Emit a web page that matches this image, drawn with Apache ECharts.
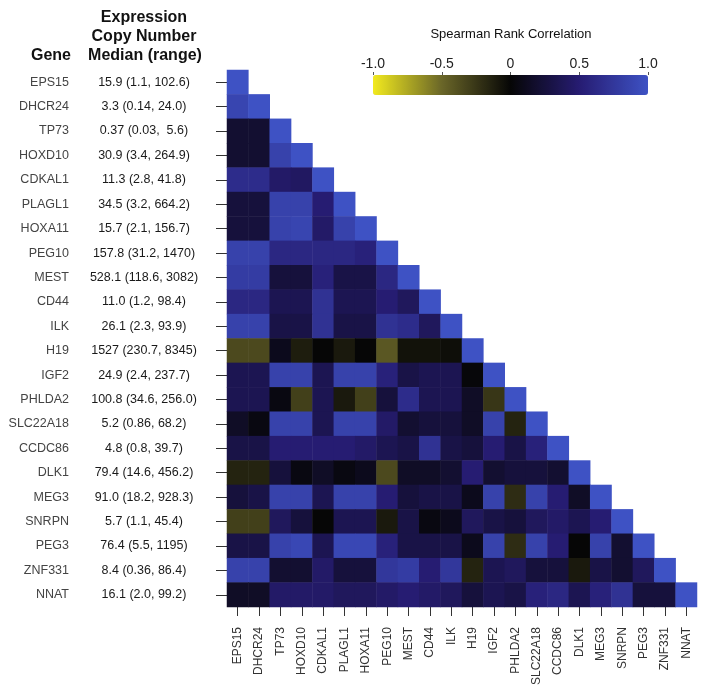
<!DOCTYPE html>
<html>
<head>
<meta charset="utf-8">
<script src="https://cdn.jsdelivr.net/npm/echarts@6/dist/echarts.min.js"></script>
<style>
  html, body { margin: 0; padding: 0; background: #fff; }
  #main { width: 714px; height: 697px; }
</style>
</head>
<body>
<div id="main"></div>
<script>
// genes, top to bottom / left to right
var genes = ['EPS15', 'DHCR24', 'TP73', 'HOXD10', 'CDKAL1', 'PLAGL1', 'HOXA11', 'PEG10',
  'MEST', 'CD44', 'ILK', 'H19', 'IGF2', 'PHLDA2', 'SLC22A18', 'CCDC86', 'DLK1', 'MEG3',
  'SNRPN', 'PEG3', 'ZNF331', 'NNAT'];

// expression copy number: median (range)
var expression = ['15.9 (1.1, 102.6)', '3.3 (0.14, 24.0)', '0.37 (0.03,  5.6)', '30.9 (3.4, 264.9)',
  '11.3 (2.8, 41.8)', '34.5 (3.2, 664.2)', '15.7 (2.1, 156.7)', '157.8 (31.2, 1470)',
  '528.1 (118.6, 3082)', '11.0 (1.2, 98.4)', '26.1 (2.3, 93.9)', '1527 (230.7, 8345)',
  '24.9 (2.4, 237.7)', '100.8 (34.6, 256.0)', '5.2 (0.86, 68.2)', '4.8 (0.8, 39.7)',
  '79.4 (14.6, 456.2)', '91.0 (18.2, 928.3)', '5.7 (1.1, 45.4)', '76.4 (5.5, 1195)',
  '8.4 (0.36, 86.4)', '16.1 (2.0, 99.2)'];

// lower triangle of the Spearman correlation matrix, row by row (diagonal included)
var corrRows = [
  [1],
  [0.88, 1],
  [0.2, 0.2, 1],
  [0.2, 0.2, 0.85, 1],
  [0.65, 0.65, 0.45, 0.42, 1],
  [0.25, 0.25, 0.85, 0.85, 0.5, 1],
  [0.25, 0.25, 0.85, 0.88, 0.45, 0.85, 1],
  [0.85, 0.85, 0.6, 0.6, 0.6, 0.6, 0.55, 1],
  [0.8, 0.8, 0.25, 0.25, 0.55, 0.3, 0.3, 0.6, 1],
  [0.6, 0.6, 0.35, 0.35, 0.7, 0.35, 0.35, 0.5, 0.4, 1],
  [0.85, 0.85, 0.3, 0.3, 0.7, 0.3, 0.3, 0.7, 0.65, 0.4, 1],
  [-0.35, -0.35, 0.1, -0.12, 0, -0.1, 0, -0.42, -0.06, -0.06, -0.04, 1],
  [0.35, 0.35, 0.85, 0.85, 0.35, 0.85, 0.85, 0.55, 0.3, 0.35, 0.35, 0.02, 1],
  [0.35, 0.35, 0.05, -0.3, 0.35, -0.1, -0.3, 0.25, 0.65, 0.35, 0.35, 0.15, -0.25, 1],
  [0.15, 0.05, 0.85, 0.85, 0.35, 0.85, 0.85, 0.45, 0.2, 0.25, 0.25, 0.15, 0.85, -0.15, 1],
  [0.3, 0.3, 0.5, 0.5, 0.5, 0.5, 0.45, 0.35, 0.3, 0.7, 0.3, 0.25, 0.5, 0.3, 0.55, 1],
  [-0.15, -0.15, 0.25, 0.05, 0.15, 0.05, 0.1, -0.35, 0.15, 0.15, 0.2, 0.5, 0.2, 0.25, 0.25, 0.2, 1],
  [0.25, 0.3, 0.85, 0.85, 0.35, 0.85, 0.85, 0.5, 0.25, 0.3, 0.3, 0.1, 0.85, -0.2, 0.85, 0.5, 0.15, 1],
  [-0.3, -0.3, 0.4, 0.25, 0, 0.35, 0.35, -0.1, 0.3, 0.05, 0.1, 0.4, 0.3, 0.25, 0.4, 0.45, 0.35, 0.5, 1],
  [0.3, 0.3, 0.85, 0.9, 0.35, 0.9, 0.9, 0.55, 0.3, 0.3, 0.3, 0.1, 0.85, -0.2, 0.85, 0.5, 0, 0.85, 0.2, 1],
  [0.85, 0.85, 0.2, 0.2, 0.45, 0.25, 0.25, 0.75, 0.8, 0.5, 0.75, -0.15, 0.35, 0.4, 0.25, 0.25, -0.1, 0.3, 0.2, 0.4, 1],
  [0.15, 0.15, 0.45, 0.45, 0.45, 0.4, 0.4, 0.45, 0.5, 0.45, 0.4, 0.25, 0.35, 0.3, 0.55, 0.6, 0.35, 0.55, 0.7, 0.25, 0.25, 1]
];

var scaleColors = ['#f2ea1e', '#6a6628', '#060606', '#261c72', '#3e52c4'];

var font = 'Liberation Sans, Arial, sans-serif';

// heatmap data [x, y, value]
var cells = [];
corrRows.forEach(function (row, r) {
  row.forEach(function (v, c) {
    cells.push([c, r, v]);
  });
});

var chart = echarts.init(document.getElementById('main'));

chart.setOption({
  animation: false,
  textStyle: { fontFamily: font },
  grid: [
    { left: 227, top: 70, width: 470, height: 537 },
    // holds the colour scale axis
    { left: 373, top: 75, width: 275, height: 20 }
  ],
  xAxis: [
    {
      type: 'category',
      gridIndex: 0,
      data: genes,
      position: 'bottom',
      axisLine: { show: false },
      axisTick: { show: true, alignWithLabel: true, length: 9, lineStyle: { color: '#333' } },
      axisLabel: { rotate: 90, margin: 20, fontSize: 12, color: '#333', fontFamily: font },
      splitLine: { show: false }
    },
    {
      type: 'value',
      gridIndex: 1,
      position: 'top',
      min: -1,
      max: 1,
      interval: 0.5,
      axisLine: { show: false },
      axisTick: { show: true, length: 3, lineStyle: { color: '#555' } },
      axisLabel: {
        margin: 4, fontSize: 14, color: '#222', fontFamily: font,
        formatter: function (v) { return v === 0 ? '0' : v.toFixed(1); }
      },
      splitLine: { show: false }
    }
  ],
  yAxis: [
    {
      type: 'category',
      gridIndex: 0,
      data: genes,
      inverse: true,
      axisLine: { show: false },
      axisTick: { show: true, alignWithLabel: true, length: 11, lineStyle: { color: '#333' } },
      axisLabel: { margin: 158, fontSize: 12.5, color: '#444', fontFamily: font },
      splitLine: { show: false }
    },
    {
      type: 'category',
      gridIndex: 0,
      data: expression,
      inverse: true,
      position: 'left',
      axisLine: { show: false },
      axisTick: { show: false },
      axisLabel: { margin: 83, align: 'center', fontSize: 12.5, color: '#1a1a1a', fontFamily: font },
      splitLine: { show: false }
    },
    {
      type: 'category',
      gridIndex: 1,
      data: [''],
      show: false
    }
  ],
  visualMap: {
    type: 'continuous',
    seriesIndex: 0,
    min: -1,
    max: 1,
    orient: 'horizontal',
    left: 373,
    top: 75,
    padding: 0,
    itemWidth: 20,
    itemHeight: 275,
    calculable: false,
    text: null,
    hoverLink: false,
    inRange: { color: scaleColors }
  },
  graphic: [
    { type: 'text', left: 31, top: 48, style: { text: 'Gene', font: 'bold 16px ' + font, fill: '#111' } },
    { type: 'text', x: 144, y: 18, style: { text: 'Expression', font: 'bold 16px ' + font, fill: '#111', align: 'center', verticalAlign: 'middle' } },
    { type: 'text', x: 144, y: 37, style: { text: 'Copy Number', font: 'bold 16px ' + font, fill: '#111', align: 'center', verticalAlign: 'middle' } },
    { type: 'text', x: 145, y: 56, style: { text: 'Median (range)', font: 'bold 16px ' + font, fill: '#111', align: 'center', verticalAlign: 'middle' } },
    { type: 'text', x: 511, y: 34, style: { text: 'Spearman Rank Correlation', font: '13px ' + font, fill: '#111', align: 'center', verticalAlign: 'middle' } }
  ],
  series: [
    {
      type: 'heatmap',
      xAxisIndex: 0,
      yAxisIndex: 0,
      data: cells,
      itemStyle: { borderWidth: 0 },
      emphasis: { disabled: true }
    }
  ]
});
</script>
</body>
</html>
